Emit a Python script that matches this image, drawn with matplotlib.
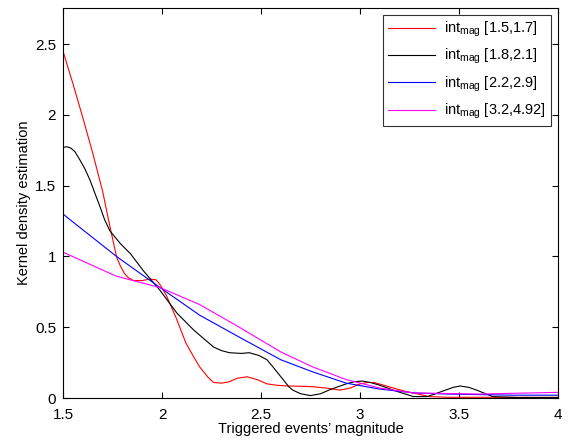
import matplotlib
matplotlib.use('Agg')
import matplotlib.pyplot as plt

plt.rcParams['font.family'] = ['Liberation Sans', 'DejaVu Sans']
plt.rcParams['mathtext.fontset'] = 'custom'
plt.rcParams['mathtext.rm'] = 'Liberation Sans'
plt.rcParams['mathtext.it'] = 'Liberation Sans'

# values
x_red = [1.5, 1.55, 1.6, 1.65, 1.7, 1.74, 1.77, 1.79, 1.81, 1.83, 1.855, 1.9, 1.94, 1.97,
         1.99, 2.02, 2.07, 2.12, 2.16, 2.19, 2.23, 2.26, 2.30, 2.34, 2.38, 2.43, 2.48, 2.53,
         2.58, 2.63, 2.70, 2.76, 2.83, 2.90, 2.95, 3.0, 3.04, 3.07, 3.12, 3.17, 3.22, 3.27,
         3.35, 3.45, 3.6, 3.8, 4.0]
y_red = [2.45, 2.22, 1.98, 1.73, 1.46, 1.19, 1.0, 0.93, 0.88, 0.85, 0.83, 0.83, 0.84, 0.835,
         0.80, 0.73, 0.57, 0.39, 0.29, 0.22, 0.15, 0.11, 0.105, 0.115, 0.14, 0.15, 0.13, 0.10,
         0.09, 0.085, 0.083, 0.08, 0.07, 0.056, 0.07, 0.10, 0.11, 0.11, 0.09, 0.07, 0.05, 0.035,
         0.01, 0.005, 0.005, 0.005, 0.005]

x_black = [1.5, 1.52, 1.54, 1.56, 1.586, 1.61, 1.636, 1.66, 1.687, 1.71, 1.737, 1.79, 1.84,
           1.905, 1.99, 2.075, 2.16, 2.26, 2.30, 2.34, 2.40, 2.44, 2.49, 2.53, 2.56, 2.60,
           2.64, 2.66, 2.70, 2.75, 2.80, 2.85, 2.93, 2.97, 3.01, 3.05, 3.10, 3.19, 3.27,
           3.34, 3.42, 3.47, 3.505, 3.55, 3.59, 3.67, 3.8, 4.0]
y_black = [1.77, 1.775, 1.765, 1.74, 1.68, 1.62, 1.54, 1.45, 1.35, 1.26, 1.18, 1.09, 1.02,
           0.90, 0.76, 0.60, 0.48, 0.36, 0.335, 0.32, 0.315, 0.32, 0.30, 0.27, 0.22, 0.15,
           0.08, 0.056, 0.03, 0.017, 0.03, 0.06, 0.10, 0.115, 0.12, 0.11, 0.09, 0.045, 0.01,
           0.01, 0.05, 0.075, 0.085, 0.075, 0.055, 0.01, 0.003, 0.003]

x_blue = [1.5, 1.535, 1.77, 1.99, 2.19, 2.39, 2.6, 2.76, 2.93, 3.10, 3.27, 3.44, 3.77, 4.0]
y_blue = [1.30, 1.26, 1.0, 0.78, 0.585, 0.43, 0.27, 0.185, 0.105, 0.063, 0.036, 0.028, 0.02, 0.02]

x_mag = [1.5, 1.77, 1.99, 2.19, 2.39, 2.6, 2.76, 2.93, 3.10, 3.27, 3.6, 4.0]
y_mag = [1.03, 0.86, 0.78, 0.66, 0.50, 0.325, 0.22, 0.13, 0.07, 0.036, 0.028, 0.04]

labels = [r'int$_{\mathrm{mag}}$ [1.5,1.7]', r'int$_{\mathrm{mag}}$ [1.8,2.1]',
          r'int$_{\mathrm{mag}}$ [2.2,2.9]', r'int$_{\mathrm{mag}}$ [3.2,4.92]']

fig = plt.figure(figsize=(5.73, 4.45), dpi=100)
ax = fig.add_axes([0.110, 0.1056, 0.864, 0.8764])

ax.plot(x_red, y_red, color='#ff0000', lw=0.8, label=labels[0])
ax.plot(x_black, y_black, color='#000000', lw=0.8, label=labels[1])
ax.plot(x_blue, y_blue, color='#0000ff', lw=0.8, label=labels[2])
ax.plot(x_mag, y_mag, color='#ff00ff', lw=0.8, label=labels[3])

ax.set_xlim(1.5, 4)
ax.set_ylim(0, 2.755)
ax.set_xticks([1.5, 2, 2.5, 3, 3.5, 4])
ax.set_xticklabels(['1.5', '2', '2.5', '3', '3.5', '4'])
ax.set_yticks([0, 0.5, 1, 1.5, 2, 2.5])
ax.set_yticklabels(['0', '0.5', '1', '1.5', '2', '2.5'])
ax.tick_params(direction='in', top=True, right=True, labelsize=11, length=4, width=0.8)
ax.tick_params(axis='x', pad=7)
ax.tick_params(axis='y', pad=5)
for s in ax.spines.values():
    s.set_linewidth(0.8)

ax.set_xlabel('Triggered events\u2019 magnitude', fontsize=10.5, labelpad=0)
ax.set_ylabel('Kernel density estimation', fontsize=10.5, labelpad=3)

leg = ax.legend(loc='upper right', bbox_to_anchor=(0.985, 0.983), fancybox=False,
                edgecolor='black', fontsize=10.5, handlelength=3.2, borderpad=0.35,
                labelspacing=0.55, handletextpad=0.6, borderaxespad=0)
leg.get_frame().set_linewidth(0.8)

plt.savefig('out.png', dpi=100)
